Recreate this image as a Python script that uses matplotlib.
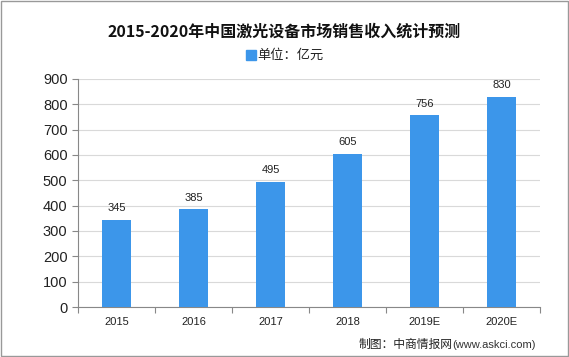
import matplotlib
matplotlib.use('Agg')
import matplotlib.pyplot as plt
from matplotlib.patches import Rectangle

plt.rcParams['font.family'] = ['Liberation Sans', 'Noto Sans CJK SC']

years = ['2015', '2016', '2017', '2018', '2019E', '2020E']
revenue = [345, 385, 495, 605, 756, 830]
title = '2015-2020年中国激光设备市场销售收入统计预测'
unit_label = '单位：亿元'
source_cn = '制图：中商情报网'
source_url = '(www.askci.com)'

bar_color = '#3C96EA'
cjk = ['Noto Sans CJK SC', 'DejaVu Sans']

fig = plt.figure(figsize=(5.69, 3.57), dpi=100)
ax = fig.add_axes([0.137, 0.140, 0.812, 0.639])

x = range(len(years))
ax.bar(x, revenue, width=0.38, color=bar_color, zorder=3)
for xi, v in zip(x, revenue):
    ax.text(xi, v + 26, str(v), ha='center', va='bottom', fontsize=8,
            color='#222222')

ax.set_xlim(-0.5, len(years) - 0.5)
ax.set_ylim(0, 900)
ax.set_yticks(range(0, 901, 100))
ax.tick_params(axis='y', labelsize=10.5, length=4, color='#888888',
               labelcolor='#222222')
# boundary ticks between categories, labels centred under bars
ax.set_xticks([i + 0.5 for i in range(-1, len(years))])
ax.set_xticklabels([''] * (len(years) + 1))
ax.set_xticks(list(x), minor=True)
ax.set_xticklabels(years, minor=True, fontsize=8)
ax.tick_params(axis='x', which='major', length=4, color='#888888')
ax.tick_params(axis='x', which='minor', length=0, pad=7, labelcolor='#222222')
ax.grid(axis='y', color='#d9d9d9', linewidth=0.8, zorder=0)
for s in ['top', 'right']:
    ax.spines[s].set_visible(False)
for s in ['left', 'bottom']:
    ax.spines[s].set_color('#888888')

fig.text(0.5, 0.912, title, ha='center', va='center', fontsize=11.5,
         fontweight='bold', color='#111111', family=cjk)
fig.patches.append(Rectangle((0.432, 0.832), 0.018, 0.028,
                             transform=fig.transFigure, color=bar_color))
fig.text(0.453, 0.846, unit_label, ha='left', va='center', fontsize=9.5,
         color='#222222', family=cjk)
fig.text(0.795, 0.035, source_url, ha='left', va='center', fontsize=8,
         color='#333333')
fig.text(0.795, 0.035, source_cn, ha='right', va='center', fontsize=8.5,
         color='#222222', family=cjk)
fig.patches.append(Rectangle((0.001, 0.002), 0.997, 0.996,
                             transform=fig.transFigure, fill=False,
                             edgecolor='#999999', linewidth=1))

fig.savefig('out.png', dpi=100)
